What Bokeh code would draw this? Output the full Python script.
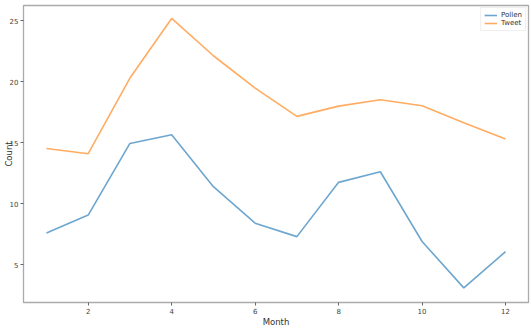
from bokeh.plotting import figure
from bokeh.models import Range1d, FixedTicker, Legend, LegendItem
from bokeh.embed import file_html
from bokeh.resources import INLINE

months = [1, 2, 3, 4, 5, 6, 7, 8, 9, 10, 11, 12]
pollen = [7.6, 9.07, 14.94, 15.66, 11.4, 8.4, 7.3, 11.75, 12.62, 6.9, 3.1, 6.07]
tweet = [14.53, 14.1, 20.3, 25.19, 22.13, 19.48, 17.16, 18.0, 18.52, 18.03, 16.64, 15.3]
x_ticks = [2, 4, 6, 8, 10, 12]
y_ticks = [5, 10, 15, 20, 25]

p = figure(width=531, height=329, output_backend="svg", toolbar_location=None,
           x_range=Range1d(0.45, 12.55), y_range=Range1d(1.9, 26.25),
           min_border_left=0, min_border_right=3, min_border_top=5, min_border_bottom=0)

r1 = p.line(months, pollen, line_color="#1f77b4", line_alpha=0.65, line_width=1.6)
r2 = p.line(months, tweet, line_color="#ff7f0e", line_alpha=0.65, line_width=1.6)

p.xgrid.visible = False
p.ygrid.visible = False
p.outline_line_color = "#aaaaaa"
p.outline_line_width = 1.3
p.background_fill_color = "white"
p.border_fill_color = "white"

p.xaxis.ticker = FixedTicker(ticks=x_ticks)
p.yaxis.ticker = FixedTicker(ticks=y_ticks)
for ax in (p.xaxis, p.yaxis):
    ax.axis_line_color = None
    ax.major_tick_line_color = "#666666"
    ax.major_tick_in = 0
    ax.major_tick_out = 3
    ax.minor_tick_line_color = None
    ax.major_label_text_font = "DejaVu Sans"
    ax.major_label_text_font_size = "7px"
    ax.major_label_text_color = "#444444"
    ax.major_label_standoff = 2
    ax.axis_label_text_font = "DejaVu Sans"
    ax.axis_label_text_font_size = "8.5px"
    ax.axis_label_text_font_style = "normal"
    ax.axis_label_text_color = "#333333"

p.xaxis.axis_label = "Month"
p.xaxis.axis_label_standoff = 0
p.yaxis.axis_label = "Count"
p.yaxis.axis_label_standoff = -7

legend = Legend(items=[LegendItem(label="Pollen", renderers=[r1]),
                       LegendItem(label="Tweet", renderers=[r2])],
                location="top_right")
legend.label_text_font = "DejaVu Sans"
legend.label_text_font_size = "7px"
legend.label_text_color = "#333333"
legend.glyph_width = 13
legend.glyph_height = 8
legend.label_height = 8
legend.spacing = 0
legend.padding = 3
legend.margin = 2
legend.label_standoff = 4
legend.border_line_color = "#e0e0e0"
legend.border_line_width = 1
legend.background_fill_alpha = 0.8
p.add_layout(legend)

open("out.html", "w").write(file_html(p, INLINE))
